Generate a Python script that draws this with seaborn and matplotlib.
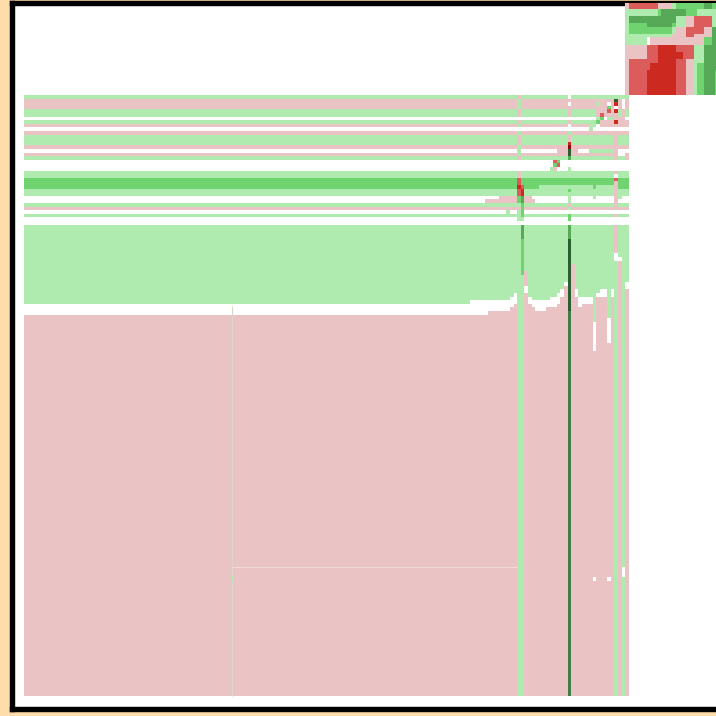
import numpy as np
import matplotlib
matplotlib.use("Agg")
import matplotlib.pyplot as plt
from matplotlib.colors import ListedColormap
import seaborn as sns

# value levels of the matrix
DR, R, MR, P, W, G, M, D, C, K = -4, -3, -2, -1, 0, 1, 2, 3, 4, 5
level_colors = ['#8B0A08', '#CC2A20', '#DC5C5C', '#EAC4C4', '#FFFFFF',
                '#AFEBAF', '#6FD46F', '#57A857', '#3F7F45', '#2B5F30']
N_ROWS, N_COLS = 193, 194
MAIN_TOP, MAIN_COLS = 26, 168

# horizontal bands of the main block (count of rows, level)
band_counts = [1, 3, 2, 1, 1, 1, 1, 1, 3, 1, 1, 1, 1, 3, 2, 3, 2, 2, 1, 1, 1, 1, 2, 22, 3, 106]
band_levels = [G, P, G, W, G, P, W, P, G, P, W, P, G, W, G, M, G, W, G, P, W, G, W, G, W, P]

# boundary between the upper green and lower pink areas, per column
curve_cols = [124, 125, 126, 127, 128, 129, 130, 131, 132, 133, 134, 135, 136,
              140, 141, 142, 143, 144, 145, 146, 147, 148, 149, 150,
              153, 154, 155, 156, 157, 158, 159, 160, 161, 162, 163, 165, 167]
curve_green_end = [57, 57, 57, 57, 57, 57, 57, 57, 57, 57, 57, 56, 55,
                   56, 57, 57, 57, 57, 57, 56, 56, 55, 54, 52,
                   54, 56, 56, 56, 56, 63, 55, 54, 54, 62, 54, 45, 52]
curve_pink_start = [61, 61, 61, 61, 61, 60, 60, 60, 60, 60, 60, 59, 58,
                    58, 59, 60, 60, 60, 59, 59, 59, 58, 56, 53,
                    56, 59, 58, 58, 58, 71, 56, 56, 56, 69, 56, 46, 54]

# column strips: (first row, end row, level) in main-block rows
col_137 = [(0, 1, P), (1, 4, G), (4, 6, P), (7, 8, P), (8, 9, G), (10, 11, G), (11, 14, P),
           (14, 15, G), (15, 17, G), (17, 18, P), (21, 23, P), (23, 25, MR), (25, 26, R),
           (26, 28, MR), (28, 30, M), (30, 31, G), (31, 32, P), (32, 33, G), (33, 35, G), (36, 167, G)]
col_138 = [(1, 4, P), (21, 23, G), (25, 26, MR), (26, 28, R), (28, 30, D), (30, 34, M),
           (34, 35, G), (36, 40, D), (40, 50, M), (50, 167, G)]
col_139 = [(36, 49, G), (49, 53, P), (53, 55, W), (55, 167, P)]
col_151 = [(0, 1, W), (1, 2, P), (2, 3, W), (3, 6, P), (6, 7, W), (7, 8, P), (8, 10, W), (10, 11, G),
           (11, 13, P), (13, 14, R), (14, 15, DR), (15, 17, K), (17, 18, D), (18, 20, W), (20, 23, G),
           (23, 25, K), (25, 26, D), (26, 27, M), (27, 30, G), (30, 31, P), (31, 32, G), (32, 33, W),
           (33, 35, M), (35, 36, W), (36, 40, D), (40, 60, K), (60, 64, C), (64, 167, C)]
col_152 = [(36, 47, G), (47, 167, P)]
col_159 = [(1, 4, G), (4, 6, P), (6, 7, G), (7, 8, M), (8, 9, W)]
col_160 = [(4, 5, P), (5, 6, MR), (6, 7, M), (7, 8, P), (8, 9, P)]
col_161 = [(4, 6, P), (7, 9, P)]
col_162 = [(1, 3, P), (3, 4, M), (4, 5, MR), (5, 6, P), (6, 7, G), (7, 9, P)]
col_163 = [(4, 6, P), (6, 7, G), (7, 9, P)]
col_164 = [(0, 1, G), (1, 2, K), (2, 3, R), (3, 4, W), (4, 5, R), (5, 7, P), (7, 8, R), (8, 9, P),
           (10, 11, P), (11, 14, P), (14, 18, P), (21, 22, P), (22, 23, W), (23, 24, MR),
           (24, 31, P), (33, 34, P), (36, 44, P), (44, 46, W), (46, 167, G)]
col_165 = [(1, 4, P), (4, 6, G), (6, 8, P), (8, 9, P), (15, 17, W), (28, 29, G), (36, 45, G), (46, 167, P)]
col_166 = [(1, 4, W), (4, 8, P), (15, 17, W), (36, 167, G), (131, 134, W)]
col_167 = [(1, 4, P), (4, 6, G), (7, 9, P), (17, 18, P)]

# horizontal pieces in the upper right of the main block: (row, first col, end col, level)
row_pieces = [(1, 159, 164, P), (2, 162, 163, W), (3, 159, 162, P), (6, 152, 159, W),
              (8, 152, 157, P), (8, 157, 159, G), (9, 157, 158, G),
              (15, 148, 151, P), (15, 152, 154, P), (15, 157, 164, G),
              (16, 148, 151, P), (16, 152, 164, P),
              (18, 147, 148, MR), (18, 148, 149, M), (19, 147, 148, M), (19, 148, 149, MR),
              (20, 147, 148, P), (20, 146, 147, G),
              (23, 139, 164, M), (24, 139, 164, M), (25, 139, 143, M), (25, 143, 164, G), (25, 158, 159, M),
              (25, 165, 168, M), (23, 165, 168, M), (24, 165, 168, M),
              (28, 132, 137, P), (29, 128, 137, P), (28, 139, 141, P), (29, 139, 142, P),
              (28, 158, 159, G), (32, 134, 135, G),
              (134, 158, 159, W), (134, 162, 163, W)]

# top right block, each row run-length coded as (number of columns, level) from column 167
top_row_0 = [(1, P), (8, MR), (4, P), (1, G), (8, M), (2, D), (2, M), (1, M)]
top_row_2 = [(9, G), (1, M), (7, D), (3, M), (6, G), (1, G)]
top_row_4 = [(1, G), (13, D), (3, G), (2, P), (5, MR), (2, G)]
top_row_6 = [(1, G), (5, M), (7, D), (1, M), (3, G), (2, P), (5, MR), (2, G)]
top_row_7 = [(1, G), (12, M), (1, G), (3, P), (2, MR), (3, MR), (2, P), (2, D)]
top_row_9 = [(13, G), (4, P), (2, MR), (3, P), (2, P), (2, D)]
top_row_10 = [(6, G), (1, W), (15, P), (2, M), (2, D)]
top_row_12 = [(6, P), (3, MR), (5, R), (5, MR), (3, G), (2, D), (2, D)]
top_row_14 = [(6, P), (3, MR), (7, R), (3, MR), (3, G), (2, D), (2, D)]
top_row_16 = [(1, P), (8, MR), (5, R), (3, MR), (2, P), (3, G), (2, D), (2, D)]
top_row_17 = [(1, P), (6, MR), (7, R), (3, MR), (2, P), (1, G), (2, M), (4, D)]
top_row_19 = [(1, P), (5, MR), (8, R), (3, MR), (2, P), (1, G), (2, M), (3, D), (1, M)]
top_counts = [2, 2, 2, 1, 2, 1, 2, 2, 2, 1, 2, 7]
top_runs = [top_row_0, top_row_2, top_row_4, top_row_6, top_row_7, top_row_9,
            top_row_10, top_row_12, top_row_14, top_row_16, top_row_17, top_row_19]

# faint seams between matrix blocks, in cell units
seam_v_col, seam_v_from, seam_v_to = 57.8, 84.5, 193.0
seam_h_row, seam_h_from, seam_h_to = 157.2, 57.8, 137.0
seam_g_from, seam_g_to = 159.5, 161.0

# assemble the matrix
Z = np.zeros((N_ROWS, N_COLS), dtype=int)
main = np.zeros((sum(band_counts), MAIN_COLS), dtype=int)
main[:, :] = np.repeat(band_levels, band_counts)[:, None]
for c, ge, ps in zip(curve_cols, curve_green_end, curve_pink_start):
    main[36:ge, c] = G
    main[ge:ps, c] = W
    main[ps:, c] = P
for c, runs in [(137, col_137), (138, col_138), (139, col_139), (151, col_151), (152, col_152),
                (159, col_159), (160, col_160), (161, col_161), (162, col_162), (163, col_163),
                (164, col_164), (165, col_165), (166, col_166), (167, col_167)]:
    for a, b, v in runs:
        main[a:b, c] = v
for r, a, b, v in row_pieces:
    main[r, a:b] = v
Z[MAIN_TOP:, :MAIN_COLS] = main
r = 0
for cnt, runs in zip(top_counts, top_runs):
    c = 167
    for n, v in runs:
        Z[r:r + cnt, c:c + n] = v
        c += n
    r += cnt

# figure
sns.set_theme(style="white")
fig = plt.figure(figsize=(7.16, 7.16), dpi=100, facecolor='#FFDDAA')
L, Rt, T, B = 11.5, 718.0, 2.7, 709.0
ax = fig.add_axes([L / 716, (716 - B) / 716, (Rt - L) / 716, (B - T) / 716])
sns.heatmap(Z, ax=ax, mask=(Z == W), cmap=ListedColormap(level_colors), vmin=-4.5, vmax=5.5,
            cbar=False, xticklabels=False, yticklabels=False, linewidths=0)
ax.collections[0].set_zorder(3)
ax.vlines(seam_v_col, seam_v_from, seam_v_to, color='#DDD5C8', lw=0.8, zorder=4)
ax.hlines(seam_h_row, seam_h_from, seam_h_to, color='#F2D8D8', lw=0.8, zorder=4)
ax.vlines(seam_v_col, seam_g_from, seam_g_to, color='#AFEBAF', lw=1.4, zorder=4)
ax.set_xlim((L - 24) / 3.6, (Rt - 24) / 3.6)
ax.set_ylim((B - 1.4) / 3.6, (T - 1.4) / 3.6)
for s in ax.spines.values():
    s.set_visible(True)
    s.set_color('black')
    s.set_linewidth(3.9)
ax.tick_params(left=False, bottom=False)
fig.savefig('out.png', dpi=100, facecolor=fig.get_facecolor())
